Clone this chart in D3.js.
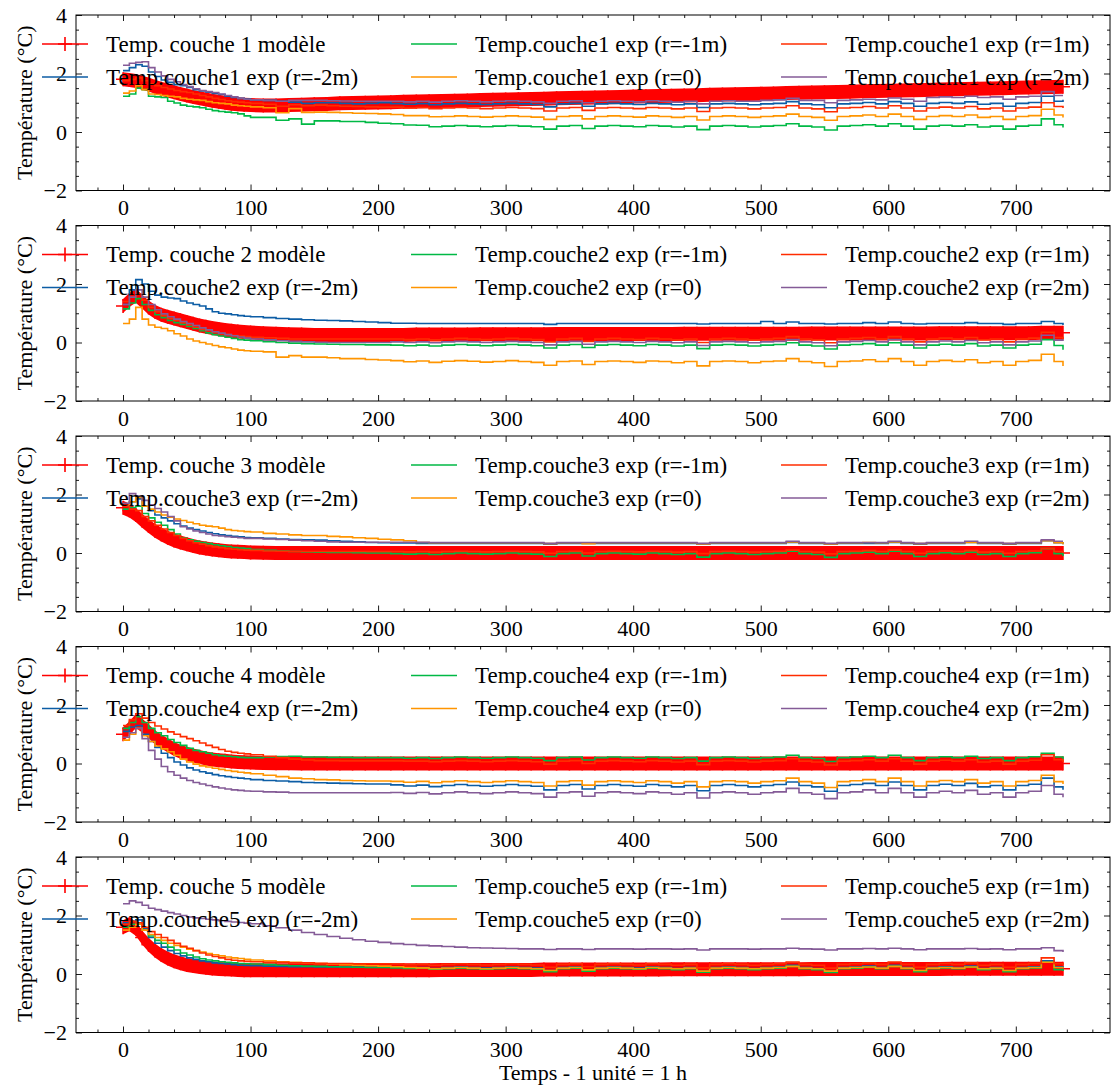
<!DOCTYPE html>
<html>
<head>
<meta charset="utf-8">
<script src="https://cdn.jsdelivr.net/npm/d3@7"></script>
<style>
  body { margin: 0; background: #fff; }
</style>
</head>
<body>
<div id="chart"></div>
<script>
// time axis (hours)
const hours = [0,5,10,15,20,25,30,35,40,45,50,55,60,65,70,75,80,85,90,95,100,110,120,130,140,150,160,170,180,190,200,210,220,230,240,250,260,270,280,290,300,310,320,330,340,350,360,370,380,390,400,410,420,430,440,450,460,470,480,490,500,510,520,530,540,550,560,570,580,590,600,610,620,630,640,650,660,670,680,690,700,710,720,730,737];

const radii = ["r=-2m", "r=-1m", "r=0", "r=1m", "r=2m"];

// couche 1
const c1Model = [1.80,1.78,1.74,1.68,1.62,1.55,1.48,1.42,1.36,1.30,1.25,1.20,1.15,1.11,1.07,1.03,1.00,0.97,0.95,0.93,0.92,0.91,0.91,0.92,0.93,0.95,0.96,0.98,0.99,1.00,1.01,1.02,1.03,1.04,1.05,1.06,1.07,1.08,1.09,1.10,1.11,1.12,1.13,1.14,1.15,1.16,1.17,1.18,1.19,1.20,1.21,1.22,1.23,1.24,1.25,1.26,1.27,1.28,1.29,1.30,1.31,1.32,1.33,1.34,1.35,1.36,1.37,1.38,1.39,1.40,1.41,1.42,1.43,1.44,1.45,1.46,1.47,1.48,1.49,1.50,1.51,1.52,1.53,1.54,1.55];
const c1Rm2 = [2.10,2.20,2.30,2.25,2.05,1.90,1.78,1.70,1.62,1.58,1.52,1.45,1.40,1.36,1.32,1.28,1.22,1.18,1.15,1.13,1.10,1.08,1.05,1.02,0.98,1.00,1.00,0.98,0.96,0.98,1.00,0.97,0.95,0.97,0.93,0.96,0.98,0.96,0.94,0.96,0.98,0.96,0.94,0.86,0.96,0.98,0.88,0.96,0.98,0.96,0.94,0.98,0.96,0.93,0.96,0.84,0.96,0.98,0.96,0.93,0.96,0.98,1.04,0.96,0.93,0.83,0.96,0.98,1.01,0.96,1.04,0.98,0.88,0.98,1.01,0.98,1.03,0.95,0.98,0.88,0.98,1.01,1.22,1.05,1.10];
const c1Rm1 = [1.22,1.30,1.50,1.45,1.22,1.20,1.18,1.05,0.99,0.92,0.88,0.86,0.83,0.78,0.73,0.70,0.68,0.66,0.62,0.55,0.50,0.50,0.40,0.45,0.27,0.38,0.38,0.36,0.36,0.33,0.30,0.28,0.24,0.23,0.18,0.20,0.22,0.20,0.18,0.20,0.22,0.20,0.18,0.10,0.20,0.22,0.12,0.20,0.22,0.20,0.18,0.22,0.20,0.17,0.20,0.08,0.20,0.22,0.20,0.17,0.20,0.22,0.28,0.20,0.17,0.07,0.20,0.22,0.25,0.20,0.28,0.20,0.10,0.20,0.23,0.20,0.25,0.17,0.20,0.10,0.20,0.23,0.45,0.25,0.15];
const c1R0 = [1.33,1.40,1.58,1.45,1.30,1.28,1.25,1.22,1.20,1.15,1.12,1.10,1.08,1.04,1.00,0.98,0.96,0.92,0.90,0.88,0.86,0.83,0.66,0.80,0.67,0.68,0.67,0.66,0.64,0.63,0.62,0.60,0.56,0.56,0.52,0.53,0.55,0.53,0.51,0.53,0.55,0.53,0.51,0.43,0.53,0.55,0.45,0.53,0.55,0.53,0.51,0.55,0.53,0.50,0.53,0.41,0.53,0.55,0.53,0.50,0.53,0.55,0.61,0.53,0.50,0.40,0.53,0.55,0.58,0.53,0.61,0.53,0.43,0.53,0.56,0.53,0.58,0.50,0.53,0.43,0.53,0.56,0.78,0.58,0.50];
const c1R1 = [1.75,1.80,1.85,1.75,1.65,1.58,1.52,1.47,1.42,1.38,1.35,1.30,1.25,1.20,1.15,1.11,1.07,1.04,1.02,1.00,0.98,0.95,0.88,0.93,0.90,0.92,0.90,0.88,0.87,0.86,0.85,0.85,0.82,0.84,0.80,0.82,0.84,0.82,0.80,0.82,0.84,0.82,0.80,0.72,0.82,0.84,0.74,0.82,0.84,0.82,0.80,0.84,0.82,0.79,0.82,0.70,0.82,0.84,0.82,0.79,0.82,0.84,0.90,0.82,0.79,0.69,0.82,0.84,0.87,0.82,0.90,0.82,0.72,0.82,0.85,0.82,0.87,0.79,0.82,0.72,0.82,0.85,1.00,0.87,0.82];
const c1R2 = [2.28,2.35,2.38,2.40,2.20,2.05,1.92,1.80,1.72,1.62,1.55,1.48,1.42,1.38,1.35,1.30,1.25,1.20,1.15,1.12,1.10,1.08,1.05,1.08,1.08,1.08,1.07,1.06,1.05,1.05,1.05,1.05,1.03,1.05,1.02,1.05,1.07,1.05,1.03,1.05,1.07,1.05,1.03,0.98,1.05,1.07,1.00,1.05,1.07,1.05,1.03,1.07,1.05,1.02,1.05,0.96,1.05,1.07,1.05,1.05,1.08,1.10,1.15,1.08,1.08,1.00,1.08,1.10,1.12,1.10,1.16,1.12,1.05,1.18,1.20,1.18,1.22,1.18,1.20,1.12,1.20,1.22,1.38,1.25,1.25];

// couche 2
const c2Model = [1.25,1.45,1.60,1.40,1.20,1.05,0.95,0.88,0.82,0.76,0.70,0.64,0.58,0.54,0.50,0.46,0.43,0.40,0.38,0.36,0.34,0.32,0.30,0.28,0.27,0.26,0.26,0.26,0.26,0.26,0.26,0.26,0.26,0.27,0.27,0.27,0.27,0.27,0.28,0.28,0.28,0.28,0.28,0.28,0.29,0.29,0.29,0.29,0.29,0.29,0.29,0.29,0.29,0.29,0.30,0.30,0.30,0.30,0.30,0.30,0.30,0.30,0.30,0.30,0.31,0.31,0.31,0.31,0.31,0.31,0.31,0.31,0.31,0.31,0.32,0.32,0.32,0.32,0.32,0.32,0.32,0.32,0.33,0.33,0.33];
const c2Rm2 = [1.30,1.80,2.15,2.00,1.75,1.62,1.55,1.52,1.50,1.42,1.35,1.30,1.25,1.15,1.05,1.00,0.98,0.95,0.92,0.90,0.88,0.85,0.82,0.80,0.78,0.76,0.75,0.74,0.72,0.70,0.68,0.66,0.66,0.65,0.65,0.65,0.65,0.65,0.65,0.65,0.65,0.65,0.65,0.62,0.65,0.65,0.65,0.65,0.65,0.65,0.65,0.65,0.65,0.65,0.65,0.63,0.65,0.65,0.65,0.65,0.72,0.65,0.70,0.65,0.65,0.63,0.65,0.65,0.68,0.65,0.70,0.65,0.63,0.65,0.65,0.65,0.68,0.65,0.65,0.62,0.65,0.65,0.72,0.65,0.60];
const c2Rm1 = [1.15,1.35,1.50,1.30,1.10,0.95,0.85,0.75,0.68,0.62,0.55,0.48,0.40,0.33,0.27,0.22,0.18,0.14,0.10,0.08,0.06,0.03,0.00,-0.02,-0.04,-0.05,-0.06,-0.07,-0.07,-0.08,-0.08,-0.09,-0.11,-0.09,-0.12,-0.09,-0.07,-0.09,-0.11,-0.09,-0.07,-0.09,-0.11,-0.19,-0.09,-0.07,-0.17,-0.09,-0.07,-0.09,-0.11,-0.07,-0.09,-0.12,-0.09,-0.21,-0.09,-0.07,-0.09,-0.12,-0.09,-0.07,-0.01,-0.09,-0.12,-0.22,-0.09,-0.07,-0.04,-0.09,-0.01,-0.09,-0.19,-0.09,-0.06,-0.09,-0.04,-0.12,-0.09,-0.19,-0.09,-0.06,0.10,-0.10,-0.25];
const c2R0 = [0.65,0.80,1.20,0.80,0.60,0.52,0.48,0.40,0.30,0.22,0.12,0.05,0.00,-0.05,-0.10,-0.15,-0.18,-0.22,-0.26,-0.28,-0.30,-0.32,-0.50,-0.45,-0.50,-0.50,-0.52,-0.55,-0.55,-0.58,-0.60,-0.62,-0.66,-0.63,-0.68,-0.64,-0.62,-0.64,-0.67,-0.65,-0.62,-0.65,-0.68,-0.78,-0.65,-0.63,-0.75,-0.65,-0.63,-0.65,-0.68,-0.63,-0.65,-0.69,-0.65,-0.80,-0.65,-0.63,-0.65,-0.69,-0.65,-0.63,-0.55,-0.65,-0.69,-0.82,-0.65,-0.63,-0.59,-0.65,-0.55,-0.65,-0.78,-0.65,-0.61,-0.65,-0.59,-0.69,-0.65,-0.78,-0.65,-0.61,-0.40,-0.65,-0.80];
const c2R1 = [1.40,1.55,1.65,1.45,1.20,1.05,0.92,0.82,0.75,0.68,0.60,0.52,0.45,0.40,0.35,0.30,0.27,0.24,0.22,0.20,0.18,0.16,0.14,0.12,0.12,0.12,0.12,0.12,0.12,0.12,0.12,0.12,0.10,0.12,0.09,0.12,0.14,0.12,0.10,0.12,0.14,0.12,0.10,0.02,0.12,0.14,0.04,0.12,0.14,0.12,0.10,0.14,0.12,0.09,0.12,0.00,0.12,0.14,0.12,0.09,0.12,0.14,0.20,0.12,0.09,-0.01,0.12,0.14,0.17,0.12,0.20,0.12,0.02,0.12,0.15,0.12,0.17,0.09,0.12,0.02,0.12,0.15,0.35,0.17,0.12];
const c2R2 = [1.30,1.55,1.80,1.55,1.30,1.12,0.98,0.88,0.80,0.72,0.65,0.58,0.50,0.43,0.37,0.32,0.27,0.23,0.19,0.15,0.12,0.09,0.06,0.04,0.02,0.01,0.00,0.00,0.00,0.00,0.00,0.02,0.00,0.02,-0.01,0.02,0.04,0.02,0.00,0.02,0.04,0.02,0.00,-0.08,0.02,0.04,-0.06,0.02,0.04,0.02,0.00,0.04,0.02,-0.01,0.02,-0.10,0.02,0.04,0.02,-0.01,0.02,0.04,0.10,0.02,-0.01,-0.11,0.02,0.04,0.07,0.02,0.10,0.02,-0.08,0.02,0.05,0.02,0.07,-0.01,0.02,-0.08,0.02,0.05,0.25,0.08,0.05];

// couche 3
const c3Model = [1.55,1.45,1.30,1.10,0.92,0.76,0.63,0.52,0.43,0.36,0.30,0.24,0.19,0.15,0.12,0.09,0.07,0.05,0.04,0.03,0.02,0.01,0.00,0.00,0.00,0.00,0.00,0.00,0.00,0.00,0.00,0.00,0.00,0.00,0.00,0.00,0.00,0.00,0.00,0.00,0.00,0.00,0.00,0.00,0.00,0.00,0.00,0.00,0.00,0.00,0.00,0.00,0.00,0.00,0.00,0.00,0.00,0.00,0.00,0.00,0.00,0.00,0.00,0.00,0.00,0.00,0.00,0.00,0.00,0.00,0.00,0.00,0.00,0.00,0.00,0.00,0.00,0.00,0.00,0.00,0.00,0.00,0.00,0.00,0.00];
const c3Rm2 = [1.60,1.75,1.85,1.60,1.45,1.30,1.20,1.10,1.00,0.92,0.85,0.80,0.75,0.70,0.66,0.62,0.60,0.57,0.55,0.53,0.52,0.50,0.48,0.46,0.45,0.44,0.42,0.40,0.38,0.36,0.35,0.34,0.34,0.33,0.33,0.33,0.33,0.33,0.33,0.33,0.33,0.33,0.33,0.30,0.33,0.33,0.33,0.33,0.33,0.33,0.33,0.33,0.33,0.33,0.33,0.30,0.33,0.33,0.33,0.33,0.33,0.33,0.36,0.33,0.33,0.30,0.33,0.33,0.33,0.33,0.36,0.33,0.30,0.33,0.33,0.33,0.36,0.33,0.33,0.30,0.33,0.33,0.42,0.35,0.30];
const c3Rm1 = [1.50,1.55,1.60,1.35,1.20,1.05,0.95,0.80,0.65,0.52,0.45,0.40,0.36,0.32,0.28,0.25,0.22,0.19,0.17,0.15,0.12,0.09,0.07,0.05,0.04,0.03,0.02,0.02,0.01,0.00,0.00,-0.02,-0.04,-0.02,-0.05,-0.02,0.00,-0.02,-0.04,-0.02,0.00,-0.02,-0.04,-0.12,-0.02,0.00,-0.10,-0.02,0.00,-0.02,-0.04,0.00,-0.02,-0.05,-0.02,-0.14,-0.02,0.00,-0.02,-0.05,-0.02,0.00,0.06,-0.02,-0.05,-0.15,-0.02,0.00,0.03,-0.02,0.06,-0.02,-0.12,-0.02,0.01,-0.02,0.03,-0.05,-0.02,-0.12,-0.02,0.01,0.15,-0.02,-0.10];
const c3R0 = [1.60,1.75,1.90,1.60,1.50,1.40,1.30,1.22,1.16,1.11,1.05,1.00,0.95,0.92,0.90,0.85,0.80,0.77,0.75,0.73,0.72,0.67,0.65,0.62,0.60,0.60,0.57,0.55,0.52,0.50,0.47,0.45,0.42,0.36,0.35,0.35,0.35,0.35,0.35,0.35,0.35,0.35,0.35,0.32,0.35,0.35,0.32,0.35,0.35,0.35,0.35,0.35,0.35,0.35,0.35,0.31,0.35,0.35,0.35,0.35,0.35,0.35,0.38,0.35,0.35,0.31,0.35,0.35,0.36,0.35,0.38,0.35,0.32,0.35,0.35,0.35,0.36,0.35,0.35,0.32,0.35,0.35,0.42,0.35,0.30];
const c3R1 = [1.60,1.50,1.45,1.25,1.10,0.95,0.82,0.70,0.60,0.50,0.42,0.35,0.30,0.25,0.21,0.18,0.15,0.13,0.11,0.10,0.09,0.07,0.06,0.05,0.05,0.05,0.05,0.05,0.05,0.05,0.05,0.05,0.04,0.05,0.03,0.05,0.06,0.05,0.04,0.05,0.06,0.05,0.04,-0.01,0.05,0.06,0.00,0.05,0.06,0.05,0.04,0.06,0.05,0.03,0.05,-0.02,0.05,0.06,0.05,0.03,0.05,0.06,0.10,0.05,0.03,-0.03,0.05,0.06,0.08,0.05,0.10,0.05,-0.01,0.05,0.07,0.05,0.08,0.03,0.05,-0.01,0.05,0.07,0.15,0.05,0.00];
const c3R2 = [1.70,2.03,1.95,1.80,1.65,1.52,1.40,1.25,1.10,0.90,0.82,0.75,0.70,0.65,0.60,0.58,0.56,0.54,0.52,0.50,0.50,0.48,0.46,0.44,0.42,0.40,0.38,0.37,0.37,0.37,0.37,0.37,0.37,0.37,0.36,0.36,0.36,0.36,0.36,0.36,0.36,0.36,0.36,0.33,0.36,0.36,0.36,0.36,0.36,0.36,0.36,0.36,0.36,0.36,0.36,0.33,0.36,0.36,0.36,0.36,0.36,0.36,0.40,0.36,0.36,0.33,0.36,0.36,0.36,0.36,0.40,0.36,0.33,0.36,0.36,0.36,0.40,0.36,0.36,0.33,0.36,0.36,0.45,0.40,0.40];

// couche 4
const c4Model = [1.00,1.20,1.45,1.30,1.10,0.90,0.75,0.62,0.50,0.40,0.33,0.27,0.22,0.17,0.14,0.11,0.09,0.07,0.05,0.04,0.03,0.02,0.01,0.01,0.00,0.00,0.00,0.00,0.00,0.00,0.00,0.00,0.00,0.00,0.00,0.00,0.00,0.00,0.00,0.00,0.00,0.00,0.00,0.00,0.00,0.00,0.00,0.00,0.00,0.00,0.00,0.00,0.00,0.00,0.00,0.00,0.00,0.00,0.00,0.00,0.00,0.00,0.00,0.00,0.00,0.00,0.00,0.00,0.00,0.00,0.00,0.00,0.00,0.00,0.00,0.00,0.00,0.00,0.00,0.00,0.00,0.00,0.00,0.00,0.00];
const c4Rm2 = [1.10,1.25,1.30,1.00,0.75,0.55,0.35,0.20,0.05,-0.05,-0.15,-0.22,-0.28,-0.33,-0.38,-0.42,-0.45,-0.48,-0.50,-0.52,-0.55,-0.58,-0.60,-0.62,-0.65,-0.66,-0.67,-0.68,-0.69,-0.70,-0.70,-0.73,-0.77,-0.74,-0.79,-0.75,-0.72,-0.75,-0.78,-0.75,-0.72,-0.75,-0.78,-0.90,-0.75,-0.72,-0.87,-0.75,-0.72,-0.75,-0.78,-0.72,-0.75,-0.80,-0.75,-0.93,-0.75,-0.72,-0.75,-0.80,-0.75,-0.72,-0.63,-0.75,-0.80,-0.95,-0.75,-0.72,-0.68,-0.75,-0.63,-0.75,-0.90,-0.75,-0.71,-0.75,-0.68,-0.80,-0.75,-0.90,-0.75,-0.71,-0.50,-0.80,-0.90];
const c4Rm1 = [1.20,1.40,1.60,1.40,1.20,1.05,0.95,0.82,0.72,0.62,0.52,0.45,0.40,0.35,0.30,0.27,0.25,0.23,0.21,0.20,0.20,0.22,0.24,0.25,0.22,0.22,0.21,0.21,0.20,0.20,0.20,0.20,0.18,0.20,0.17,0.20,0.22,0.20,0.18,0.20,0.22,0.20,0.18,0.10,0.20,0.22,0.12,0.20,0.22,0.20,0.18,0.22,0.20,0.17,0.20,0.08,0.20,0.22,0.20,0.17,0.20,0.22,0.28,0.20,0.17,0.07,0.20,0.22,0.25,0.20,0.28,0.20,0.10,0.20,0.23,0.20,0.25,0.17,0.20,0.10,0.20,0.23,0.35,0.22,0.15];
const c4R0 = [0.80,1.00,1.20,0.95,0.75,0.60,0.50,0.40,0.28,0.15,0.05,-0.02,-0.08,-0.12,-0.16,-0.20,-0.24,-0.27,-0.30,-0.32,-0.35,-0.40,-0.45,-0.50,-0.52,-0.55,-0.56,-0.58,-0.59,-0.60,-0.60,-0.61,-0.64,-0.61,-0.66,-0.62,-0.59,-0.62,-0.65,-0.62,-0.59,-0.62,-0.65,-0.77,-0.62,-0.59,-0.74,-0.62,-0.59,-0.62,-0.65,-0.59,-0.62,-0.67,-0.62,-0.80,-0.62,-0.59,-0.62,-0.67,-0.62,-0.59,-0.50,-0.62,-0.67,-0.82,-0.62,-0.59,-0.55,-0.62,-0.50,-0.62,-0.77,-0.62,-0.58,-0.62,-0.55,-0.67,-0.62,-0.77,-0.62,-0.58,-0.40,-0.62,-0.70];
const c4R1 = [1.30,1.50,1.70,1.55,1.40,1.28,1.18,1.08,1.00,0.92,0.85,0.78,0.70,0.62,0.55,0.48,0.42,0.38,0.35,0.33,0.30,0.25,0.20,0.15,0.12,0.10,0.10,0.09,0.09,0.09,0.09,0.09,0.08,0.08,0.06,0.08,0.10,0.08,0.06,0.08,0.10,0.08,0.06,-0.02,0.08,0.10,0.00,0.08,0.10,0.08,0.06,0.10,0.08,0.05,0.08,-0.04,0.08,0.10,0.08,0.05,0.08,0.10,0.16,0.08,0.05,-0.05,0.08,0.10,0.13,0.08,0.16,0.08,-0.02,0.08,0.11,0.08,0.13,0.05,0.08,-0.02,0.08,0.11,0.30,0.13,0.05];
const c4R2 = [0.90,1.05,1.20,0.85,0.45,0.15,-0.10,-0.28,-0.40,-0.50,-0.58,-0.65,-0.70,-0.75,-0.80,-0.84,-0.87,-0.90,-0.92,-0.94,-0.95,-0.97,-0.98,-1.00,-1.00,-1.00,-1.00,-1.00,-1.00,-1.00,-1.00,-0.99,-1.02,-0.99,-1.04,-1.00,-0.97,-1.00,-1.03,-1.00,-0.97,-1.00,-1.03,-1.15,-1.00,-0.97,-1.12,-1.00,-0.97,-1.00,-1.03,-0.97,-1.00,-1.05,-1.00,-1.18,-1.00,-0.97,-1.00,-1.05,-1.00,-0.97,-0.85,-1.00,-1.05,-1.20,-1.00,-0.97,-0.90,-1.00,-0.85,-1.00,-1.15,-1.00,-0.95,-1.00,-0.92,-1.05,-1.00,-1.15,-1.00,-0.95,-0.75,-1.05,-1.15];

// couche 5
const c5Model = [1.60,1.70,1.55,1.25,1.00,0.80,0.65,0.53,0.44,0.37,0.31,0.27,0.24,0.21,0.19,0.17,0.16,0.15,0.14,0.13,0.13,0.13,0.13,0.13,0.13,0.13,0.13,0.13,0.13,0.13,0.13,0.13,0.13,0.13,0.13,0.14,0.14,0.14,0.14,0.14,0.14,0.14,0.14,0.15,0.15,0.15,0.15,0.15,0.15,0.15,0.15,0.15,0.15,0.16,0.16,0.16,0.16,0.16,0.16,0.16,0.16,0.16,0.16,0.16,0.17,0.17,0.17,0.17,0.17,0.17,0.17,0.17,0.17,0.17,0.17,0.18,0.18,0.18,0.18,0.18,0.18,0.18,0.18,0.18,0.18];
const c5Rm2 = [1.75,1.80,1.85,1.55,1.25,1.05,0.92,0.80,0.70,0.62,0.55,0.50,0.45,0.42,0.38,0.36,0.34,0.32,0.30,0.29,0.28,0.27,0.26,0.25,0.25,0.24,0.24,0.24,0.23,0.23,0.23,0.23,0.21,0.22,0.19,0.22,0.24,0.22,0.20,0.22,0.24,0.22,0.20,0.12,0.22,0.24,0.14,0.22,0.24,0.22,0.20,0.24,0.22,0.19,0.22,0.10,0.22,0.24,0.22,0.19,0.22,0.24,0.30,0.22,0.19,0.09,0.22,0.24,0.27,0.22,0.30,0.22,0.12,0.22,0.25,0.22,0.27,0.19,0.22,0.12,0.22,0.25,0.45,0.25,0.20];
const c5Rm1 = [1.60,1.70,1.75,1.50,1.30,1.15,1.05,0.92,0.82,0.72,0.65,0.58,0.52,0.48,0.45,0.42,0.40,0.38,0.36,0.35,0.34,0.32,0.30,0.28,0.27,0.26,0.25,0.24,0.23,0.22,0.22,0.21,0.19,0.20,0.16,0.18,0.20,0.18,0.16,0.18,0.20,0.18,0.16,0.08,0.18,0.20,0.10,0.18,0.20,0.18,0.16,0.20,0.18,0.15,0.18,0.06,0.18,0.20,0.18,0.15,0.18,0.20,0.26,0.18,0.15,0.05,0.18,0.20,0.23,0.18,0.26,0.18,0.08,0.18,0.21,0.18,0.23,0.15,0.18,0.08,0.18,0.21,0.40,0.15,0.10];
const c5R0 = [1.50,1.60,1.70,1.50,1.35,1.25,1.15,1.05,0.98,0.92,0.85,0.80,0.75,0.70,0.66,0.62,0.58,0.55,0.53,0.50,0.48,0.45,0.42,0.40,0.38,0.36,0.34,0.32,0.30,0.28,0.27,0.25,0.22,0.21,0.18,0.20,0.22,0.20,0.18,0.20,0.22,0.20,0.18,0.12,0.20,0.22,0.14,0.20,0.22,0.20,0.18,0.22,0.20,0.18,0.20,0.10,0.20,0.22,0.20,0.18,0.20,0.22,0.26,0.20,0.18,0.10,0.20,0.22,0.24,0.20,0.26,0.20,0.12,0.20,0.22,0.20,0.24,0.18,0.20,0.12,0.20,0.22,0.40,0.22,0.20];
const c5R1 = [1.70,1.80,1.75,1.60,1.45,1.35,1.25,1.15,1.05,0.95,0.88,0.80,0.72,0.65,0.60,0.55,0.50,0.47,0.45,0.43,0.42,0.40,0.40,0.38,0.38,0.37,0.36,0.36,0.35,0.35,0.35,0.34,0.32,0.33,0.30,0.33,0.35,0.33,0.31,0.33,0.35,0.33,0.31,0.23,0.33,0.35,0.25,0.33,0.35,0.33,0.31,0.35,0.33,0.30,0.33,0.21,0.33,0.35,0.33,0.30,0.33,0.35,0.41,0.33,0.30,0.20,0.33,0.35,0.38,0.33,0.41,0.33,0.23,0.33,0.36,0.33,0.38,0.30,0.33,0.23,0.33,0.36,0.55,0.35,0.30];
const c5R2 = [2.40,2.50,2.45,2.35,2.25,2.20,2.15,2.10,2.05,2.00,1.95,1.92,1.90,1.87,1.85,1.82,1.80,1.78,1.76,1.74,1.72,1.65,1.58,1.50,1.42,1.35,1.28,1.22,1.17,1.12,1.08,1.04,1.01,0.98,0.96,0.94,0.92,0.90,0.89,0.88,0.87,0.86,0.86,0.84,0.86,0.86,0.84,0.86,0.86,0.86,0.85,0.86,0.86,0.85,0.86,0.82,0.86,0.86,0.86,0.85,0.86,0.86,0.88,0.86,0.85,0.82,0.86,0.86,0.87,0.86,0.88,0.86,0.83,0.86,0.86,0.86,0.87,0.85,0.86,0.83,0.86,0.86,0.90,0.80,0.75];

const layers = [
  { n: 1, model: c1Model, exp: [c1Rm2, c1Rm1, c1R0, c1R1, c1R2] },
  { n: 2, model: c2Model, exp: [c2Rm2, c2Rm1, c2R0, c2R1, c2R2] },
  { n: 3, model: c3Model, exp: [c3Rm2, c3Rm1, c3R0, c3R1, c3R2] },
  { n: 4, model: c4Model, exp: [c4Rm2, c4Rm1, c4R0, c4R1, c4R2] },
  { n: 5, model: c5Model, exp: [c5Rm2, c5Rm1, c5R0, c5R1, c5R2] },
];

const modelColor = "#ff0000";
const expColors = ["#0C5DA5", "#00B945", "#FF9500", "#FF2C00", "#845B97"];

const W = 1113, H = 1088;
const left = 76, right = 1110;
const panelTop = [15, 225.5, 436, 646.5, 857];
const panelH = 175.5;
const fs = 22;
const serif = '"Liberation Serif", "Times New Roman", serif';

const svg = d3.select("#chart").append("svg")
  .attr("width", W).attr("height", H)
  .attr("font-family", serif);
svg.append("rect").attr("width", W).attr("height", H).attr("fill", "#fff");

const x = d3.scaleLinear().domain([-36.85, 773.85]).range([left, right]);
const xMajor = d3.range(0, 701, 100);
const xMinor = d3.range(-20, 771, 20).filter(v => v % 100 !== 0);
const yMajor = [-2, 0, 2, 4];
const yMinor = d3.range(-1.5, 4, 0.5).filter(v => v % 2 !== 0);

function styleAxis(g) {
  g.attr("font-family", serif);
  g.select(".domain").remove();
  g.selectAll(".tick line").attr("stroke", "#000").attr("stroke-width", 0.9);
  g.selectAll(".tick text").attr("font-size", fs).attr("fill", "#000")
    .style("font-family", serif);
}

layers.forEach((L, k) => {
  const top = panelTop[k];
  const y = d3.scaleLinear().domain([-2, 4]).range([top + panelH, top]);
  const g = svg.append("g");

  svg.append("clipPath").attr("id", "clip" + k)
    .append("rect").attr("x", left).attr("y", top).attr("width", right - left).attr("height", panelH);
  const plot = g.append("g").attr("clip-path", `url(#clip${k})`);

  // model: dense '+' markers drawn as a band + crosses
  const band = d3.area()
    .x((d, i) => x(hours[i]))
    .y0(d => y(d) + 7)
    .y1(d => y(d) - 7);
  plot.append("path").datum(L.model).attr("d", band).attr("fill", modelColor);
  plot.selectAll(".mk").data(L.model).join("path")
    .attr("d", (d, i) => `M${x(hours[i]) - 7},${y(d)}h14M${x(hours[i])},${y(d) - 7}v14`)
    .attr("stroke", modelColor).attr("stroke-width", 1.5);

  const line = d3.line()
    .x((d, i) => x(hours[i]))
    .y(d => y(d))
    .curve(d3.curveStepAfter);
  L.exp.forEach((s, j) => {
    plot.append("path").datum(s).attr("d", line)
      .attr("fill", "none").attr("stroke", expColors[j]).attr("stroke-width", 1.6);
  });

  // axes, ticks inward on all sides
  const bottomY = top + panelH;
  g.append("g").attr("transform", `translate(0,${bottomY})`)
    .call(d3.axisBottom(x).tickValues(xMajor).tickSize(-6).tickPadding(9).tickFormat(d3.format("d")))
    .call(styleAxis);
  g.append("g").attr("transform", `translate(0,${bottomY})`)
    .call(d3.axisBottom(x).tickValues(xMinor).tickSize(-3).tickFormat(""))
    .call(styleAxis);
  g.append("g").attr("transform", `translate(0,${top})`)
    .call(d3.axisTop(x).tickValues(xMajor).tickSize(-6).tickFormat(""))
    .call(styleAxis);
  g.append("g").attr("transform", `translate(0,${top})`)
    .call(d3.axisTop(x).tickValues(xMinor).tickSize(-3).tickFormat(""))
    .call(styleAxis);
  g.append("g").attr("transform", `translate(${left},0)`)
    .call(d3.axisLeft(y).tickValues(yMajor).tickSize(-6).tickPadding(9).tickFormat(d3.format("d")))
    .call(styleAxis);
  g.append("g").attr("transform", `translate(${left},0)`)
    .call(d3.axisLeft(y).tickValues(yMinor).tickSize(-3).tickFormat(""))
    .call(styleAxis);
  g.append("g").attr("transform", `translate(${right},0)`)
    .call(d3.axisRight(y).tickValues(yMajor).tickSize(-6).tickFormat(""))
    .call(styleAxis);
  g.append("g").attr("transform", `translate(${right},0)`)
    .call(d3.axisRight(y).tickValues(yMinor).tickSize(-3).tickFormat(""))
    .call(styleAxis);

  g.append("rect").attr("x", left).attr("y", top).attr("width", right - left).attr("height", panelH)
    .attr("fill", "none").attr("stroke", "#000").attr("stroke-width", 1);

  g.append("text")
    .attr("transform", `translate(24,${top + panelH / 2}) rotate(-90)`)
    .attr("text-anchor", "middle").attr("dy", "0.35em")
    .attr("font-size", fs).style("font-family", serif)
    .text("Température (°C)");

  // legend, 3 columns x 2 rows
  const entries = [
    { label: `Temp. couche ${L.n} modèle`, color: modelColor, marker: true },
    ...radii.map((r, j) => ({ label: `Temp.couche${L.n} exp (${r})`, color: expColors[j] }))
  ];
  const colX = [106, 475, 845];
  const rowY = [top + 29, top + 62];
  entries.forEach((e, i) => {
    const cx = colX[Math.floor(i / 2)];
    const cy = rowY[i % 2];
    const lg = g.append("g");
    lg.append("line").attr("x1", cx - 64).attr("x2", cx - 18).attr("y1", cy).attr("y2", cy)
      .attr("stroke", e.color).attr("stroke-width", 1.6);
    if (e.marker) {
      lg.append("path").attr("d", `M${cx - 48},${cy}h14M${cx - 41},${cy - 7}v14`)
        .attr("stroke", e.color).attr("stroke-width", 1.6);
    }
    lg.append("text").attr("x", cx).attr("y", cy).attr("dy", "0.33em")
      .attr("font-size", 23).style("font-family", serif).text(e.label);
  });
});

svg.append("text")
  .attr("x", (left + right) / 2).attr("y", 1080)
  .attr("text-anchor", "middle").attr("font-size", fs)
  .style("font-family", serif)
  .text("Temps - 1 unité = 1 h");
</script>
</body>
</html>
